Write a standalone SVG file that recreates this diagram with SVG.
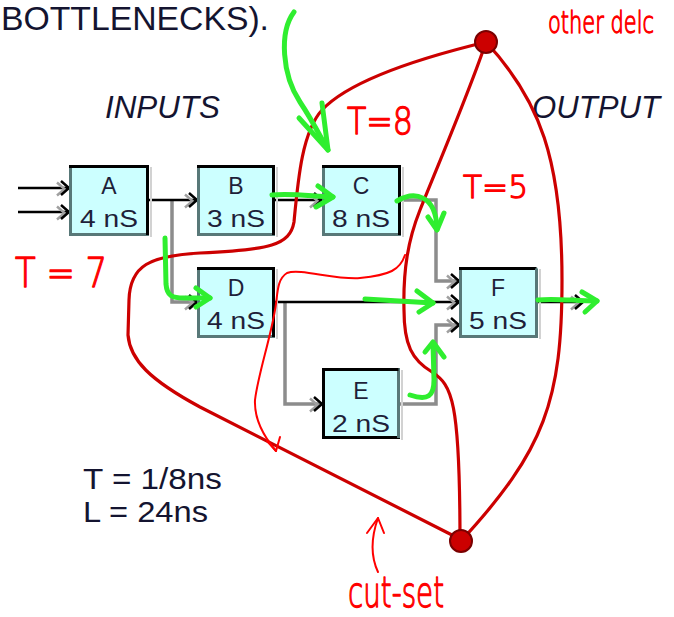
<svg xmlns="http://www.w3.org/2000/svg" width="674" height="617" viewBox="0 0 674 617">
<style>
.bg{fill:#ffffff}
.box{fill:#ccffff;stroke:#a6dada;stroke-width:2}
.edk{fill:none;stroke:#000;stroke-width:3}
.esl{fill:none;stroke:#587878;stroke-width:3}
.shd{fill:none;stroke:#d2d2d2;stroke-width:2}
.lbl{font-family:"Liberation Sans",Arial,sans-serif;font-size:23px;fill:#1f1f3a;text-anchor:middle}
.txt{font-family:"Liberation Sans",Arial,sans-serif;fill:#141430}
.blk{fill:none;stroke:#000;stroke-width:2.5;marker-end:url(#ah)}
.gry{fill:none;stroke:#8c8c8c;stroke-width:3.5;marker-end:url(#ah)}
.red{fill:none;stroke:#cc0000;stroke-width:3.2;stroke-linejoin:round}
.thin{fill:none;stroke:#ff0000;stroke-width:2;stroke-linecap:round;stroke-linejoin:round}
.grn{fill:none;stroke:#2fee2f;stroke-width:5;stroke-linecap:round;stroke-linejoin:round}
.hand{font-family:"DejaVu Sans","Liberation Sans",sans-serif;font-weight:200;fill:#ff0000;stroke:#ff0000;stroke-width:1.3;stroke-linejoin:round}
.dot{fill:#cc0000;stroke:#7a0000;stroke-width:2}
</style>
<defs>
<marker id="ah" markerUnits="userSpaceOnUse" markerWidth="18" markerHeight="20" refX="13" refY="9" orient="auto" overflow="visible">
<path d="M1,3.5 L8.5,10 L1,16.5" fill="none" stroke="#a0a0a0" stroke-width="2.5"/>
<path d="M5,2 L13,9 L5,16" fill="none" stroke="#000" stroke-width="2.5"/>
</marker>
</defs>
<rect class="bg" x="0" y="0" width="674" height="617"/>

<text class="txt" x="1" y="30" font-size="33" textLength="268" lengthAdjust="spacingAndGlyphs">BOTTLENECKS).</text>
<text class="txt" x="105" y="118" font-size="31" font-style="italic" textLength="115" lengthAdjust="spacingAndGlyphs">INPUTS</text>
<text class="txt" x="532" y="118" font-size="31" font-style="italic" textLength="128" lengthAdjust="spacingAndGlyphs">OUTPUT</text>
<text class="txt" x="83" y="489" font-size="29" textLength="139" lengthAdjust="spacingAndGlyphs">T = 1/8ns</text>
<text class="txt" x="83" y="522" font-size="29" textLength="125" lengthAdjust="spacingAndGlyphs">L = 24ns</text>

<g id="connectors">
<path class="blk" d="M18,188 H69"/>
<path class="blk" d="M18,212 H69"/>
<path class="gry" d="M172,200 V302 H197"/>
<path class="blk" d="M149,200 H197"/>
<path class="blk" d="M275,200 H322"/>
<path class="gry" d="M401,200 H436 V281 H459"/>
<path class="gry" d="M285,302 V404 H322"/>
<path class="blk" d="M275,302 H459"/>
<path class="gry" d="M400,404 H436 V325 H459"/>
<path class="blk" d="M538,302 H583"/>
</g>

<g id="node-A">
<path class="shd" d="M151,167 V237"/>
<rect class="box" x="70.5" y="166.5" width="77" height="68"/>
<path class="esl" d="M70.5,165 V234.5 H149"/>
<path class="edk" d="M69,166.5 H147.5 V235"/>
<text class="lbl" x="109" y="194">A</text>
<text class="lbl" x="109" y="227" textLength="58" lengthAdjust="spacingAndGlyphs">4 nS</text>
</g>
<g id="node-B">
<path class="shd" d="M277,167 V237"/>
<rect class="box" x="198.5" y="166.5" width="75" height="68"/>
<path class="esl" d="M198.5,165 V234.5 H275"/>
<path class="edk" d="M197,166.5 H273.5 V235"/>
<text class="lbl" x="236" y="194">B</text>
<text class="lbl" x="236" y="227" textLength="58" lengthAdjust="spacingAndGlyphs">3 nS</text>
</g>
<g id="node-C">
<path class="shd" d="M403,167 V237"/>
<rect class="box" x="323.5" y="166.5" width="76" height="68"/>
<path class="esl" d="M323.5,165 V234.5 H401"/>
<path class="edk" d="M322,166.5 H399.5 V235"/>
<text class="lbl" x="361" y="194">C</text>
<text class="lbl" x="361" y="227" textLength="58" lengthAdjust="spacingAndGlyphs">8 nS</text>
</g>
<g id="node-D">
<path class="shd" d="M277,269 V339"/>
<rect class="box" x="198.5" y="268.5" width="75" height="68"/>
<path class="esl" d="M198.5,267 V336.5 H275"/>
<path class="edk" d="M197,268.5 H273.5 V337"/>
<text class="lbl" x="236" y="296">D</text>
<text class="lbl" x="236" y="329" textLength="58" lengthAdjust="spacingAndGlyphs">4 nS</text>
</g>
<g id="node-E">
<path class="shd" d="M402,370 V440"/>
<rect class="box" x="323.5" y="369.5" width="75" height="68"/>
<path class="edk" d="M323.5,368 V437.5 H400"/>
<path class="esl" d="M322,369.5 H398.5 V438"/>
<path class="edk" d="M322,369.5 H398.5"/>
<text class="lbl" x="361" y="399">E</text>
<text class="lbl" x="361" y="432" textLength="58" lengthAdjust="spacingAndGlyphs">2 nS</text>
</g>
<g id="node-F">
<path class="shd" d="M540,269 V339"/>
<rect class="box" x="460.5" y="268.5" width="76" height="68"/>
<path class="esl" d="M460.5,267 V336.5 H538"/>
<path class="edk" d="M459,268.5 H536.5"/>
<path class="esl" d="M536.5,268.5 V337"/>
<text class="lbl" x="498" y="296">F</text>
<text class="lbl" x="498" y="329" textLength="58" lengthAdjust="spacingAndGlyphs">5 nS</text>
</g>

<g id="cut-set">
<path class="red" d="M486,42 C 420,58 350,80 322,110 C 302,132 298,180 294,222 C 290,245 270,250 200,253 C 150,256 130,265 129,300 L 128,335 C 130,360 150,380 200,407 L 452,535"/>
<path class="red" d="M486,42 C 470,90 440,160 420,210 C 408,240 403,270 404,310 C 404,345 412,360 432,372 C 452,385 460,400 460,541"/>
<path class="red" d="M486,42 C 540,100 562,160 562,280 C 562,400 545,450 461,541"/>
<circle class="dot" cx="486" cy="42" r="11"/>
<circle class="dot" cx="461" cy="541" r="11"/>
<path class="thin" d="M405,255 C 400,270 390,275 360,278 C 335,280 300,268 287,273 C 276,280 278,295 275,310 C 270,340 258,375 255,400 C 254,420 265,438 276,451"/>
<path class="thin" d="M267,441 L276,451 L280,437"/>
<path class="thin" stroke-width="2.5" d="M378,572 C 370,555 372,535 378,518"/>
<path class="thin" stroke-width="2.5" d="M367,533 L378,518 L384,533"/>
<text class="hand" x="548" y="33" font-size="31" textLength="106" lengthAdjust="spacingAndGlyphs">other delc</text>
<text class="hand" x="347" y="134" font-size="38" textLength="66" lengthAdjust="spacingAndGlyphs">T=8</text>
<text class="hand" x="463" y="198" font-size="32" textLength="65" lengthAdjust="spacingAndGlyphs">T=5</text>
<text class="hand" x="15" y="287" font-size="40" textLength="92" lengthAdjust="spacingAndGlyphs">T = 7</text>
<text class="hand" x="348" y="607" font-size="42" textLength="96" lengthAdjust="spacingAndGlyphs">cut-set</text>
</g>

<g id="flow-marks">
<path class="grn" d="M294,12 C 279,32 282,75 300,102 C 312,120 320,136 328,150"/>
<path class="grn" d="M299,118 L328,150 L322,103"/>
<path class="grn" d="M272,195 C 290,193 310,196 333,197"/>
<path class="grn" d="M318,186 L333,197 L316,207"/>
<path class="grn" d="M397,201 C 414,191 436,194 437,229"/>
<path class="grn" d="M428,217 L437,230 L444,213"/>
<path class="grn" d="M165,238 L166,284 C 167,296 172,298 184,298 L210,298"/>
<path class="grn" d="M196,288 L210,298 L196,307"/>
<path class="grn" d="M365,299 L433,303"/>
<path class="grn" d="M417,291 L433,303 L419,312"/>
<path class="grn" d="M410,395 C 428,401 434,396 434,380 L433,343"/>
<path class="grn" d="M425,352 L433,342 L444,357"/>
<path class="grn" d="M538,300 C 555,298 575,301 597,301"/>
<path class="grn" d="M582,292 L597,301 L585,312"/>
</g>
</svg>
